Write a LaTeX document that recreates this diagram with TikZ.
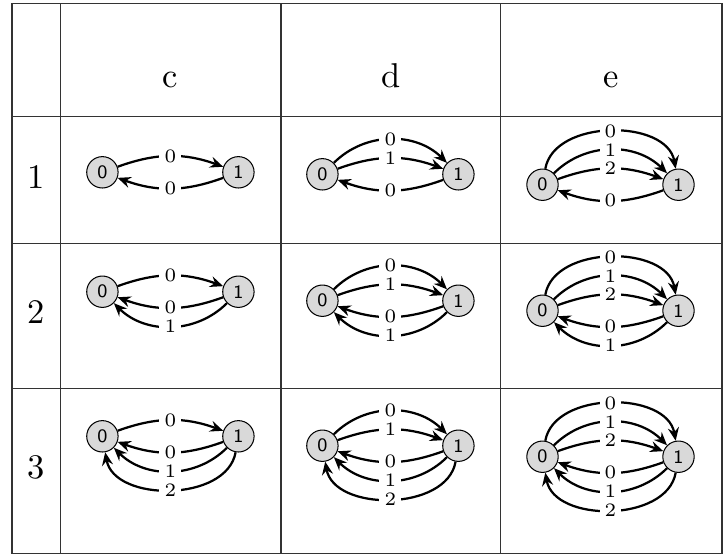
\documentclass[tikz,border=0pt]{standalone}
\usetikzlibrary{arrows.meta}
\newcommand\mygraph[5]{%
  \node[st] (#1a) at (#2-68,#3) {0};
  \node[st] (#1b) at (#2+68,#3) {1};
  \foreach \k/\a in {#4} {\draw[tr] (#1a) to[bend left=\a] node[lb] {\k} (#1b);}
  \foreach \k/\a in {#5} {\draw[tr] (#1b) to[bend left=\a] node[lb] {\k} (#1a);}
}
\begin{document}
\begin{tikzpicture}[x=0.29pt,y=-0.29pt,
  st/.style={circle,draw=black,line width=0.3pt,fill=black!15,minimum size=9.1pt,inner sep=0pt,font=\sffamily\fontsize{5.5}{6}\selectfont},
  tr/.style={line width=0.65pt,-{Stealth[length=3.8pt,width=3.2pt,inset=1.3pt]}},
  lb/.style={fill=white,inner sep=1.5pt,font=\fontsize{5.5}{6}\selectfont},
  gridline/.style={line width=0.3pt,draw=black!80},
  hd/.style={anchor=base,inner sep=0pt,font=\fontsize{10}{12}\selectfont}]
\useasboundingbox (0,0) rectangle (725,554);
\draw[gridline] (12,3.5) rectangle (722,553);
\foreach \x in {60.3,281,500.7} \draw[gridline] (\x,3.5) -- (\x,553);
\foreach \y in {116.7,243.5,388} \draw[gridline] (12,\y) -- (722,\y);
\node[hd] (hc) at (170.5,87.3) {c};
\node[hd] (hdd) at (390.8,87.3) {d};
\node[hd] (he) at (611.3,87.3) {e};
\node[hd] (r1) at (36,188.5) {1};
\node[hd] (r2) at (36,323.5) {2};
\node[hd] (r3) at (36,478) {3};
\mygraph{c1}{170.4}{172.3}{0/20}{0/20}
\mygraph{c2}{170.4}{291.7}{0/20}{0/20,1/45}
\mygraph{c3}{170.4}{436.3}{0/20}{0/20,1/45,2/80}
\mygraph{d1}{390.4}{174.3}{0/45,1/20}{0/20}
\mygraph{d2}{390.4}{300.7}{0/45,1/20}{0/20,1/45}
\mygraph{d3}{390.4}{445.7}{0/45,1/20}{0/20,1/45,2/80}
\mygraph{e1}{610.5}{184.7}{0/80,1/45,2/20}{0/20}
\mygraph{e2}{610.5}{310.7}{0/80,1/45,2/20}{0/20,1/45}
\mygraph{e3}{610.5}{456.7}{0/80,1/45,2/20}{0/20,1/45,2/80}
\end{tikzpicture}
\end{document}
